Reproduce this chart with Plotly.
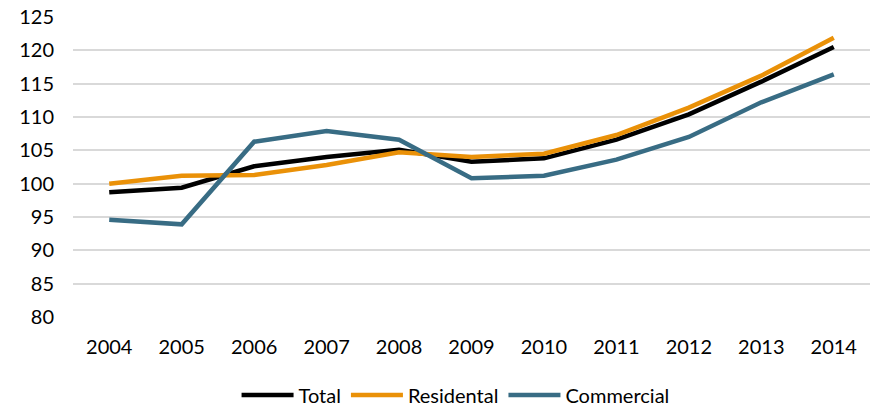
import plotly.graph_objects as go

years = ["2004", "2005", "2006", "2007", "2008", "2009", "2010", "2011", "2012", "2013", "2014"]
total = [98.7, 99.4, 102.6, 104.0, 105.1, 103.3, 103.8, 106.6, 110.4, 115.3, 120.5]
residental = [100.0, 101.2, 101.3, 102.8, 104.7, 104.0, 104.5, 107.3, 111.4, 116.2, 121.9]
commercial = [94.6, 93.9, 106.3, 107.9, 106.6, 100.8, 101.2, 103.6, 107.0, 112.2, 116.4]
y_ticks = [80, 85, 90, 95, 100, 105, 110, 115, 120, 125]

FONT = "Lato"

fig = go.Figure()
for name, vals, col in [("Total", total, "#000000"),
                        ("Residental", residental, "#EA9108"),
                        ("Commercial", commercial, "#386C84")]:
    fig.add_trace(go.Scatter(x=years, y=vals, name=name, mode="lines",
                             line=dict(color=col, width=4.5)))

fig.update_layout(
    width=871, height=406,
    margin=dict(l=73, r=1, t=17, b=89, autoexpand=False),
    plot_bgcolor="white", paper_bgcolor="white",
    font=dict(family=FONT, size=20, color="#000000"),
    showlegend=True,
    legend=dict(orientation="h", x=0.48, xanchor="center", y=-0.26, yanchor="middle",
                font=dict(family=FONT, size=20), itemwidth=52, tracegroupgap=0,
                bgcolor="rgba(0,0,0,0)"),
    xaxis=dict(type="category", range=[-0.5, 10.5], showgrid=False, zeroline=False,
               showline=False, ticks="", ticklabelstandoff=16, automargin=False,
               tickfont=dict(family=FONT, size=20)),
    yaxis=dict(range=[80, 125], tickvals=y_ticks, showgrid=True, gridcolor="#D9D9D9",
               gridwidth=1.5, zeroline=False, showline=False, ticks="", automargin=False,
               ticklabelstandoff=18, tickfont=dict(family=FONT, size=20)),
)

fig.write_html("out.html", config={"displayModeBar": False},
               post_script="document.body.style.margin='0';document.body.style.padding='0';")
